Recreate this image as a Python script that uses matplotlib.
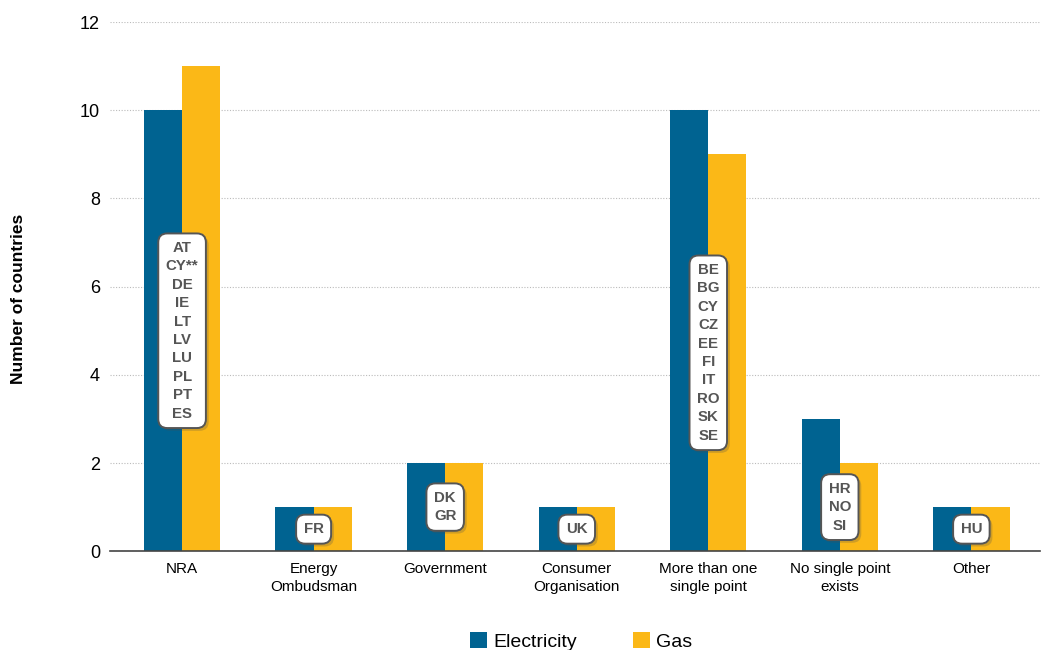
import numpy as np
import matplotlib.pyplot as plt
import matplotlib.patheffects as pe

plt.rcParams["font.family"] = ["Liberation Sans", "DejaVu Sans"]

categories = ["NRA", "Energy\nOmbudsman", "Government", "Consumer\nOrganisation",
              "More than one\nsingle point", "No single point\nexists", "Other"]
electricity = [10, 1, 2, 1, 10, 3, 1]
gas = [11, 1, 2, 1, 9, 2, 1]
country_labels = ["AT\nCY**\nDE\nIE\nLT\nLV\nLU\nPL\nPT\nES", "FR", "DK\nGR", "UK",
                  "BE\nBG\nCY\nCZ\nEE\nFI\nIT\nRO\nSK\nSE", "HR\nNO\nSI", "HU"]
label_y = [5, 0.5, 1.0, 0.5, 4.5, 1.0, 0.5]

BLUE = "#006391"
GOLD = "#FBB817"

fig = plt.figure(figsize=(10.45, 6.5), dpi=100)
ax = fig.add_axes([0.105, 0.152, 0.89, 0.814])

x = np.arange(len(categories))
w = 0.29
ax.bar(x - w / 2, electricity, width=w, color=BLUE, label="Electricity", zorder=2)
ax.bar(x + w / 2, gas, width=w, color=GOLD, label="Gas", zorder=2)

# country boxes
for i, (txt, yv) in enumerate(zip(country_labels, label_y)):
    ax.text(x[i], yv, txt, ha="center", va="center", fontsize=10.8, fontweight="bold",
            color="#555555", linespacing=1.4, zorder=5,
            bbox=dict(boxstyle="round,pad=0.5,rounding_size=0.6", fc="white",
                      ec="#555555", lw=1.4,
                      path_effects=[pe.SimplePatchShadow(offset=(2, -2), alpha=0.25),
                                    pe.Normal()]))

ax.set_ylim(0, 12)
ax.set_xlim(-0.55, 6.52)
ax.set_yticks(range(0, 13, 2))
ax.yaxis.grid(True, linestyle=(0, (1, 1.5)), color="#bbbbbb", lw=0.8, zorder=0)
ax.set_xticks(x)
ax.set_xticklabels(categories, linespacing=1.3)
ax.tick_params(axis="both", length=0)
ax.tick_params(axis="x", labelsize=11, pad=8)
ax.tick_params(axis="y", labelsize=13, pad=7)
for s in ["top", "right", "left"]:
    ax.spines[s].set_visible(False)
ax.spines["bottom"].set_color("#444444")
ax.spines["bottom"].set_linewidth(1.2)
ax.spines["bottom"].set_zorder(3)

fig.text(0.018, 0.54, "Number of countries", rotation=90, ha="center", va="center",
         fontsize=12.5, fontweight="bold")

fig.legend(loc="lower center", bbox_to_anchor=(0.556, -0.028), ncol=2, frameon=False,
           fontsize=14, handlelength=0.9, handleheight=0.9, columnspacing=2.9,
           handletextpad=0.3)

plt.savefig("out.png", dpi=100)
